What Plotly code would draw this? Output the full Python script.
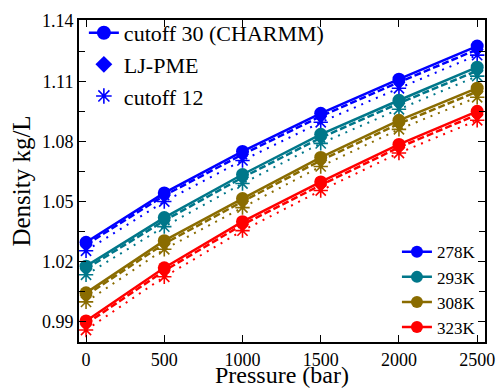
import plotly.graph_objects as go

pressure = [0, 500, 1000, 1500, 2000, 2500]
temps = ["278K", "293K", "308K", "323K"]
colors = ["#0000ff", "#00778a", "#8a6c00", "#ff0000"]

charmm = {
    "278K": [1.0297, 1.0543, 1.0750, 1.0940, 1.1110, 1.1275],
    "293K": [1.0178, 1.0420, 1.0635, 1.0835, 1.1005, 1.1170],
    "308K": [1.0045, 1.0305, 1.0515, 1.0720, 1.0905, 1.1065],
    "323K": [0.9905, 1.0170, 1.0400, 1.0598, 1.0785, 1.0950],
}
ljpme = {
    "278K": [1.0285, 1.0530, 1.0735, 1.0925, 1.1095, 1.1258],
    "293K": [1.0165, 1.0405, 1.0620, 1.0818, 1.0990, 1.1152],
    "308K": [1.0032, 1.0290, 1.0500, 1.0705, 1.0888, 1.1048],
    "323K": [0.9890, 1.0155, 1.0385, 1.0582, 1.0770, 1.0933],
}
cutoff12 = {
    "278K": [1.0255, 1.0500, 1.0705, 1.0895, 1.1065, 1.1230],
    "293K": [1.0135, 1.0375, 1.0590, 1.0790, 1.0960, 1.1125],
    "308K": [1.0000, 1.0262, 1.0470, 1.0675, 1.0860, 1.1020],
    "323K": [0.9860, 1.0125, 1.0355, 1.0555, 1.0742, 1.0905],
}

FONT = "Liberation Serif"
fig = go.Figure()

for t, c in zip(temps, colors):
    fig.add_trace(go.Scatter(
        x=pressure, y=cutoff12[t], mode="lines+markers", showlegend=False,
        line=dict(color=c, width=2, dash="2px,6px"),
        marker=dict(symbol="asterisk-open", size=12, color=c, line=dict(color=c, width=1.6))))
    fig.add_trace(go.Scatter(
        x=pressure, y=ljpme[t], mode="lines+markers", showlegend=False,
        line=dict(color=c, width=2.5, dash="7px,3px"),
        marker=dict(symbol="diamond", size=10, color=c)))
    fig.add_trace(go.Scatter(
        x=pressure, y=charmm[t], mode="lines+markers", showlegend=False,
        line=dict(color=c, width=2.5),
        marker=dict(symbol="circle", size=13, color=c)))

# method legend (top-left)
fig.add_trace(go.Scatter(x=[None], y=[None], mode="lines+markers", name="cutoff 30 (CHARMM)",
                         line=dict(color="#0000ff", width=2.5),
                         marker=dict(symbol="circle", size=14, color="#0000ff"), legend="legend"))
fig.add_trace(go.Scatter(x=[None], y=[None], mode="markers", name="LJ-PME",
                         marker=dict(symbol="diamond", size=13, color="#0000ff"), legend="legend"))
fig.add_trace(go.Scatter(x=[None], y=[None], mode="markers", name="cutoff 12",
                         marker=dict(symbol="asterisk-open", size=13, color="#0000ff",
                                     line=dict(color="#0000ff", width=1.6)), legend="legend"))
# temperature legend (bottom-right)
for t, c in zip(temps, colors):
    fig.add_trace(go.Scatter(x=[None], y=[None], mode="lines+markers", name=t,
                             line=dict(color=c, width=2.5),
                             marker=dict(symbol="circle", size=12, color=c), legend="legend2"))

axis_common = dict(showline=True, linecolor="black", linewidth=2, mirror="ticks",
                   ticks="inside", tickcolor="black", ticklen=7, tickwidth=1,
                   showgrid=False, zeroline=False, automargin=False,
                   tickfont=dict(family=FONT, size=18, color="black"))

fig.update_layout(
    width=498, height=388,
    margin=dict(l=79, r=13, t=17, b=46),
    paper_bgcolor="white", plot_bgcolor="white",
    font=dict(family=FONT, color="black"),
    xaxis=dict(range=[-45, 2550], tickvals=[0, 500, 1000, 1500, 2000, 2500],
               **axis_common),
    yaxis=dict(range=[0.9800, 1.1405], tickvals=[0.99, 1.02, 1.05, 1.08, 1.11, 1.14],
               ticktext=["0.99", "1.02", "1.05", "1.08", "1.11", "1.14"],
               minor=dict(tickvals=[0.975, 1.005, 1.035, 1.065, 1.095, 1.125], ticks="inside",
                          ticklen=6, tickcolor="black"),
               title=dict(text="Density kg/L", font=dict(family=FONT, size=25), standoff=4),
               **axis_common),
    annotations=[dict(text="Pressure (bar)", xref="paper", yref="paper", x=0.5, y=-0.104,
                      xanchor="center", yanchor="middle", showarrow=False,
                      font=dict(family=FONT, size=24, color="black"))],
    legend=dict(x=0.012, y=1.025, xanchor="left", yanchor="top", bgcolor="rgba(0,0,0,0)",
                font=dict(family=FONT, size=22), itemwidth=30, tracegroupgap=0,
                traceorder="normal"),
    legend2=dict(x=0.99, y=-0.01, xanchor="right", yanchor="bottom", bgcolor="rgba(0,0,0,0)",
                 font=dict(family=FONT, size=17), itemwidth=30, tracegroupgap=0,
                 traceorder="normal"),
)

fig.write_html("out.html")
